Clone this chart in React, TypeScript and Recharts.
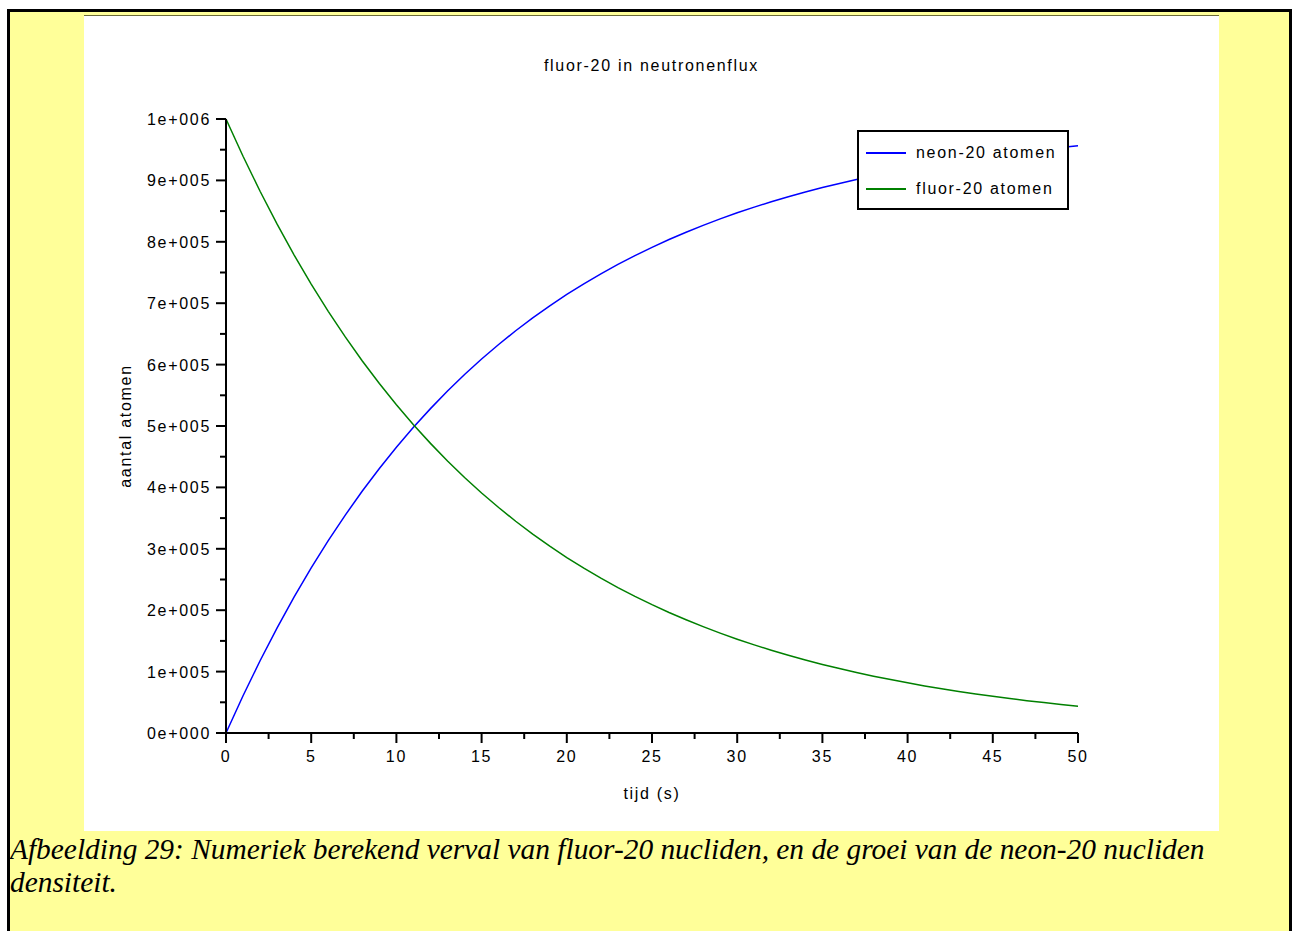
import React from 'react';
import { LineChart, Line, XAxis, YAxis, Legend } from 'recharts';

// tijd (s)
const TIME: number[] = [
  0, 1, 2, 3, 4, 5, 6, 7, 8, 9, 10, 11, 12, 13, 14, 15, 16, 17, 18, 19, 20, 21, 22, 23, 24, 25,
  26, 27, 28, 29, 30, 31, 32, 33, 34, 35, 36, 37, 38, 39, 40, 41, 42, 43, 44, 45, 46, 47, 48, 49, 50,
];

const FLUOR: number[] = [
  1000000, 939300, 882300, 828700, 778400, 731200, 686800, 645100, 605900, 569200, 534600,
  502200, 471700, 443100, 416200, 390900, 367200, 344900, 324000, 304300, 285800, 268500,
  252200, 236900, 222500, 209000, 196300, 184400, 173200, 162700, 152800, 143500, 134800,
  126600, 118900, 111700, 104900, 98600, 92600, 87000, 81700, 76700, 72100, 67700, 63600,
  59700, 56100, 52700, 49500, 46500, 43700,
];

const NEON: number[] = [
  0, 60700, 117700, 171300, 221600, 268800, 313200, 354900, 394100, 430800, 465400, 497800,
  528300, 556900, 583800, 609100, 632800, 655100, 676000, 695700, 714200, 731500, 747800,
  763100, 777500, 791000, 803700, 815600, 826800, 837300, 847200, 856500, 865200, 873400,
  881100, 888300, 895100, 901400, 907400, 913000, 918300, 923300, 927900, 932300, 936400,
  940300, 943900, 947300, 950500, 953500, 956300,
];

const X_TICKS = [0, 2.5, 5, 7.5, 10, 12.5, 15, 17.5, 20, 22.5, 25, 27.5, 30, 32.5, 35, 37.5, 40, 42.5, 45, 47.5, 50];
const X_MAJOR = [0, 5, 10, 15, 20, 25, 30, 35, 40, 45, 50];

const Y_TICKS = [
  0, 50000, 100000, 150000, 200000, 250000, 300000, 350000, 400000, 450000, 500000,
  550000, 600000, 650000, 700000, 750000, 800000, 850000, 900000, 950000, 1000000,
];
const Y_MAJOR = [0, 100000, 200000, 300000, 400000, 500000, 600000, 700000, 800000, 900000, 1000000];
const Y_LABELS = [
  '0e+000', '1e+005', '2e+005', '3e+005', '4e+005', '5e+005',
  '6e+005', '7e+005', '8e+005', '9e+005', '1e+006',
];

const SERIES = [
  { key: 'neon', name: 'neon-20 atomen', color: '#0000ff' },
  { key: 'fluor', name: 'fluor-20 atomen', color: '#008000' },
];

const data = TIME.map((t, i) => ({ t, fluor: FLUOR[i], neon: NEON[i] }));

const FONT = '"Liberation Sans", Arial, sans-serif';
const FS = 16;
const SPACING = 1.7;

const XTick = (props: any) => {
  const { x, y, payload } = props;
  const major = X_MAJOR.includes(payload.value);
  return (
    <g>
      <line x1={x} x2={x} y1={y} y2={y + (major ? 10 : 6)} stroke="#000" strokeWidth={2} />
      {major && (
        <text x={x} y={y + 29} textAnchor="middle" fontSize={FS} fontFamily={FONT} letterSpacing={SPACING} fill="#000">
          {payload.value}
        </text>
      )}
    </g>
  );
};

const YTick = (props: any) => {
  const { x, y, payload } = props;
  const idx = Y_MAJOR.indexOf(payload.value);
  const major = idx >= 0;
  return (
    <g>
      <line x1={x} x2={x - (major ? 10 : 6)} y1={y} y2={y} stroke="#000" strokeWidth={2} />
      {major && (
        <text x={x - 15} y={y + 6} textAnchor="end" fontSize={FS} fontFamily={FONT} letterSpacing={SPACING} fill="#000">
          {Y_LABELS[idx]}
        </text>
      )}
    </g>
  );
};

const LegendBox = () => (
  <div style={styles.legend}>
    {SERIES.map((s) => (
      <div key={s.key} style={styles.legendRow}>
        <div style={{ width: 40, height: 0, borderTop: `2px solid ${s.color}`, marginRight: 10 }} />
        <span>{s.name}</span>
      </div>
    ))}
  </div>
);

export default function App() {
  return (
    <div style={styles.page}>
      <div style={styles.frame}>
        <div style={styles.chartBox}>
          <div style={styles.title}>fluor-20 in neutronenflux</div>
          <LineChart width={1135} height={816} data={data} margin={{ top: 103, right: 141, bottom: 0, left: 0 }}>
            <XAxis
              dataKey="t"
              type="number"
              domain={[0, 50]}
              ticks={X_TICKS}
              interval={0}
              height={99}
              tickSize={0}
              tickMargin={0}
              tickLine={false}
              axisLine={{ stroke: '#000', strokeWidth: 2 }}
              tick={XTick}
              label={{
                content: ({ viewBox }: any) => (
                  <text
                    x={viewBox.x + viewBox.width / 2}
                    y={viewBox.y + 66}
                    textAnchor="middle"
                    fontSize={FS}
                    fontFamily={FONT}
                    letterSpacing={SPACING}
                    fill="#000"
                  >
                    tijd (s)
                  </text>
                ),
              }}
            />
            <XAxis xAxisId="top" orientation="top" dataKey="t" type="number" domain={[0, 50]} height={0} tick={false} tickLine={false} axisLine={{ stroke: '#000', strokeWidth: 2 }} />
            <YAxis
              type="number"
              domain={[0, 1000000]}
              ticks={Y_TICKS}
              interval={0}
              width={142}
              tickSize={0}
              tickMargin={0}
              tickLine={false}
              axisLine={{ stroke: '#000', strokeWidth: 2 }}
              tick={YTick}
              label={{
                content: ({ viewBox }: any) => {
                  const cx = viewBox.x + 47;
                  const cy = viewBox.y + viewBox.height / 2;
                  return (
                    <text
                      x={cx}
                      y={cy}
                      transform={`rotate(-90 ${cx} ${cy})`}
                      textAnchor="middle"
                      fontSize={FS}
                      fontFamily={FONT}
                      letterSpacing={SPACING}
                      fill="#000"
                    >
                      aantal atomen
                    </text>
                  );
                },
              }}
            />
            <YAxis yAxisId="right" orientation="right" type="number" domain={[0, 1000000]} width={0} tick={false} tickLine={false} axisLine={{ stroke: '#000', strokeWidth: 2 }} />
            {SERIES.map((s) => (
              <Line
                key={s.key}
                type="linear"
                dataKey={s.key}
                name={s.name}
                stroke={s.color}
                strokeWidth={1.5}
                dot={false}
                isAnimationActive={false}
              />
            ))}
            <Legend
              layout="vertical"
              align="center"
              verticalAlign="middle"
              content={<LegendBox />}
              wrapperStyle={{ left: 773, top: 114, width: 212, height: 80 }}
            />
          </LineChart>
        </div>
        <div style={styles.caption}>
          Afbeelding 29: Numeriek berekend verval van fluor-20 nucliden, en de groei van de neon-20 nucliden densiteit.
        </div>
      </div>
    </div>
  );
}

const styles: Record<string, React.CSSProperties> = {
  page: {
    position: 'absolute',
    left: 0,
    top: 0,
    width: 1292,
    height: 931,
    background: '#ffffff',
    overflow: 'hidden',
  },
  frame: {
    position: 'absolute',
    left: 7,
    top: 9,
    width: 1279,
    height: 940,
    background: '#ffff99',
    borderLeft: '3px solid #000',
    borderTop: '3px solid #000',
    borderRight: '3px solid #000',
  },
  chartBox: {
    position: 'absolute',
    left: 74,
    top: 3,
    width: 1135,
    height: 816,
    background: '#ffffff',
    borderTop: '1px solid #6b6b3a',
    boxSizing: 'border-box',
  },
  title: {
    position: 'absolute',
    left: 0,
    top: 42,
    width: 1135,
    textAlign: 'center',
    fontFamily: FONT,
    fontSize: FS,
    lineHeight: '16px',
    letterSpacing: SPACING,
    color: '#000',
  },
  legend: {
    width: 212,
    height: 80,
    boxSizing: 'border-box',
    border: '2px solid #000',
    background: '#ffffff',
    padding: '3px 0 0 7px',
    fontFamily: FONT,
    fontSize: FS,
    letterSpacing: SPACING,
    color: '#000',
  },
  legendRow: {
    display: 'flex',
    alignItems: 'center',
    height: 36,
  },
  caption: {
    position: 'absolute',
    left: 0,
    top: 821,
    width: 1240,
    fontFamily: '"Liberation Serif", "Times New Roman", serif',
    fontStyle: 'italic',
    fontSize: 29.4,
    lineHeight: '33px',
    color: '#000',
  },
};
